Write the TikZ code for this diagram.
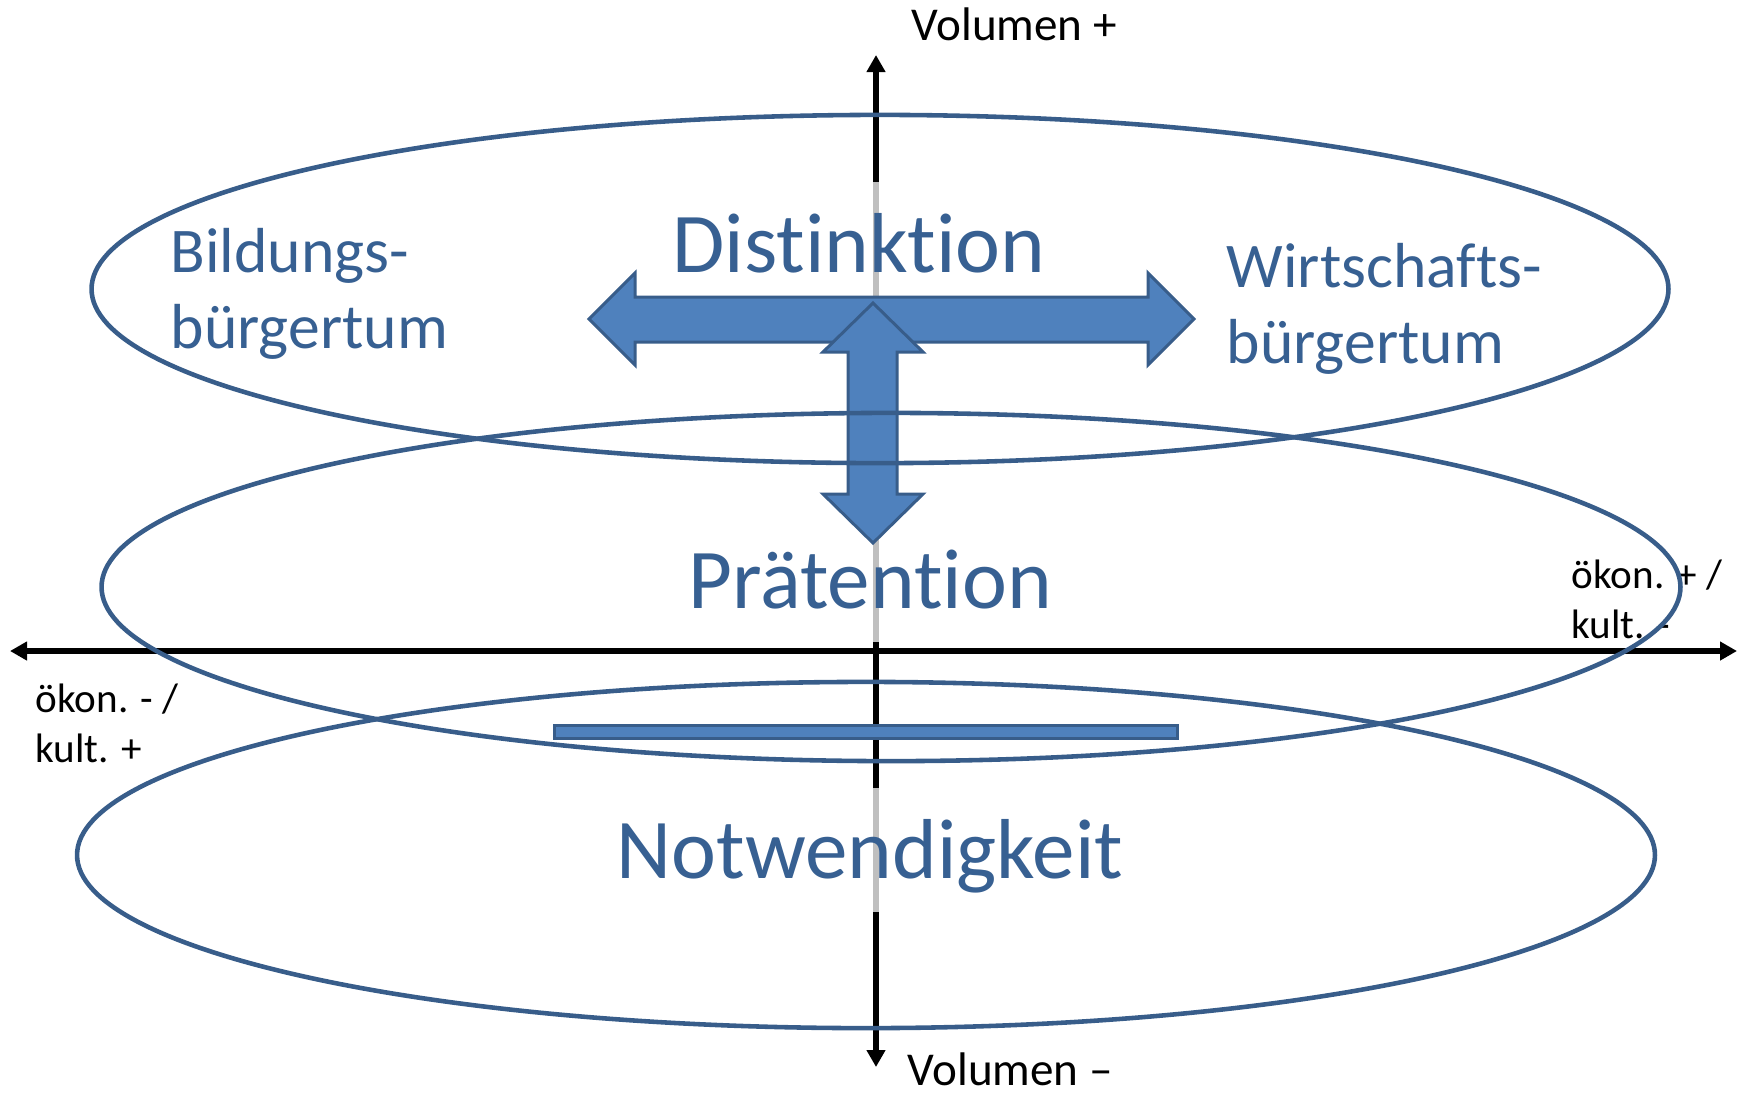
\documentclass[tikz,border=0pt]{standalone}
\usepackage{fontspec}
\setmainfont{Carlito}[Ligatures=NoCommon]
\usepackage{tikz}
\usetikzlibrary{arrows.meta,positioning}
\definecolor{TitleBlue}{RGB}{55,96,146}
\definecolor{RingBlue}{RGB}{56,93,138}
\definecolor{ArrowBlue}{RGB}{79,129,189}
\tikzstyle{axis line} = [draw, black, line width=1.45pt,
{Triangle[length=0.17cm,width=0.18cm]}-{Triangle[length=0.17cm,width=0.18cm]}]
\tikzstyle{ring} = [draw=RingBlue, line width=1.3pt]
\tikzstyle{block arrow} = [draw=RingBlue, fill=ArrowBlue, line width=0.85pt]
\tikzstyle{stratum} = [text=TitleBlue, font=\fontsize{24.2}{29}\selectfont,
fill=white, fill opacity=0.75, text opacity=1,
text height=0.74cm, text depth=0.18cm, inner ysep=0.16cm, inner xsep=0.1cm,
anchor=base]
\tikzstyle{fraction} = [text=TitleBlue, font=\fontsize{18.1}{21.6}\selectfont,
align=left, inner sep=0pt, anchor=base west]
\tikzstyle{pole} = [black, font=\fontsize{11.7}{14}\selectfont,
align=left, inner sep=0pt, anchor=base west]
\tikzstyle{volume} = [black, font=\fontsize{13.4}{16}\selectfont,
inner sep=0pt, text depth=0pt, anchor=base west]

\begin{document}
\begin{tikzpicture}[x=0.01cm, y=-0.01cm]
	\useasboundingbox (0,0) rectangle (1745,1093);
	\coordinate (west) at (10,651);
	\coordinate (east) at (1737,651);
	\coordinate (top) at (876,55);
	\coordinate (bottom) at (876,1067);
	\draw[axis line] (west) -- (east);
	\draw[axis line] (bottom) -- (top);

	\node[volume] (volplus) at (911,40) {Volumen +};
	\node[volume] (volminus) at (907,1085) {Volumen –};
	\node[pole] (leftpole) at (35,762) {ökon. - /\\kult. +};
	\node[pole] (rightpole) at (1571,638) {ökon. + /\\kult. -};

	\node[stratum] (distinktion) at (859,272) {Distinktion};
	\node[stratum] (praetention) at (870,608) {Prätention};
	\node[stratum] (notwendigkeit) at (870,878) {Notwendigkeit};
	\node[fraction] (bildung) at (170,348) {Bildungs-\\bürgertum};
	\node[fraction] (wirtschaft) at (1226,363) {Wirtschafts-\\bürgertum};

	% block arrows
	\draw[block arrow] (589,319) -- (635,273) -- (635,297) -- (1148,297) -- (1148,273)
		-- (1194,319) -- (1148,365) -- (1148,342) -- (635,342) -- (635,365) -- cycle;
	\draw[block arrow] (873,303) -- (923,352) -- (897,352) -- (897,494) -- (923,494)
		-- (873,543) -- (823,494) -- (848,494) -- (848,352) -- (823,352) -- cycle;

	% ellipses
	\draw[ring] (880,289) ellipse [x radius=7.88cm, y radius=1.74cm];
	\draw[ring] (891,587) ellipse [x radius=7.89cm, y radius=1.74cm];
	\draw[ring] (866,855) ellipse [x radius=7.885cm, y radius=1.73cm];

	\draw[block arrow] (554,725) rectangle (1177,738);
\end{tikzpicture}
\end{document}
